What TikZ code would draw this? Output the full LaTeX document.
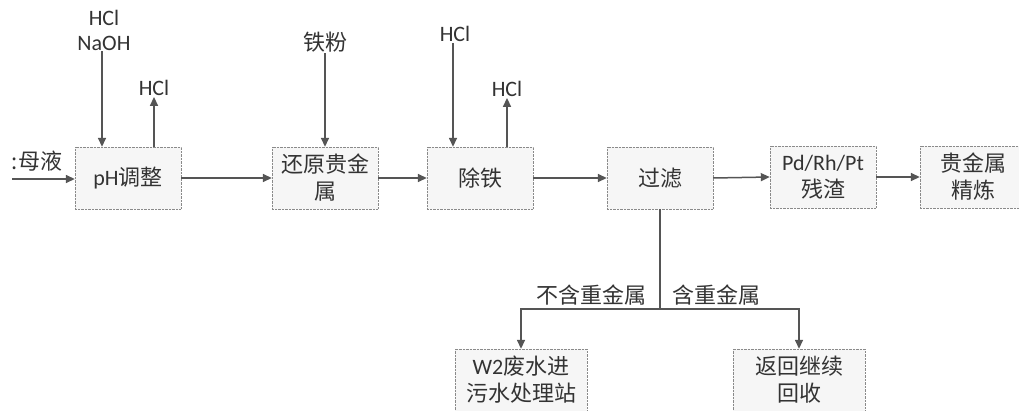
\documentclass[tikz,border=0pt]{standalone}
\usepackage{fontspec}
\setmainfont{Carlito}
\newfontfamily\cjk{Noto Sans CJK SC}
\usetikzlibrary{arrows.meta}
\definecolor{txt}{HTML}{333333}
\definecolor{ln}{HTML}{555555}
\definecolor{bd}{HTML}{8A8A8A}
\definecolor{bx}{HTML}{F6F6F6}
\tikzset{
  x=1pt, y=-1pt,
  procbox/.style={draw=bd, densely dotted, fill=bx, minimum width=106pt, minimum height=62pt,
    inner sep=0pt, align=center, text=txt, font=\fontsize{22}{27}\selectfont},
  lbl/.style={text=txt, inner sep=1pt, align=center, font=\fontsize{22}{25}\selectfont},
  arr/.style={draw=ln, line width=1.5pt, -{Triangle[length=9pt,width=8pt]}},
  seg/.style={draw=ln, line width=1.5pt}
}
\begin{document}
\begin{tikzpicture}
\useasboundingbox (0,0) rectangle (1019,410);
\clip (0,0) rectangle (1019,410);
\fill[white] (0,0) rectangle (1019,410);
% boxes
\node[procbox] (ph) at (128,178) {pH{\cjk 调整}};
\node[procbox] (red) at (325,178) {{\cjk 还原贵金}\\{\cjk 属}};
\node[procbox] (fe) at (480,178) {{\cjk 除铁}};
\node[procbox] (flt) at (660,178) {{\cjk 过滤}};
\node[procbox] (res) at (823,177) {Pd/Rh/Pt\\{\cjk 残渣}};
\node[procbox] (ref) at (973,177) {{\cjk 贵金属}\\{\cjk 精炼}};
\node[procbox, minimum width=132pt] (ww) at (521,380) {W2{\cjk 废水进}\\{\cjk 污水处理站}};
\node[procbox, minimum width=132pt] (ret) at (799,380) {{\cjk 返回继续}\\{\cjk 回收}};
% labels
\node[lbl] (ml) at (37,161) {{\cjk :母液}};
\coordinate (min) at (12,179);
\node[lbl] (hn) at (104,30) {HCl\\NaOH};
\node[lbl] (h1) at (154,88) {HCl};
\node[lbl] (tf) at (325,42) {{\cjk 铁粉}};
\node[lbl] (h2) at (455,34) {HCl};
\node[lbl] (h3) at (507,89) {HCl};
\node[lbl] (l1) at (591,295) {{\cjk 不含重金属}};
\node[lbl] (l2) at (716,295) {{\cjk 含重金属}};
% connectors
\draw[arr] (min) -- (min -| ph.west);
\draw[arr] ([xshift=-2pt]hn.south) -- ([xshift=-2pt]hn.south |- ph.north);
\draw[arr] (h1.south |- ph.north) -- (h1.south);
\draw[arr] (ph.east) -- (red.west);
\draw[arr] (tf.south) -- (tf.south |- red.north);
\draw[arr] (red.east) -- (fe.west);
\draw[arr] ([xshift=-2pt]h2.south) -- ([xshift=-2pt]h2.south |- fe.north);
\draw[arr] (h3.south |- fe.north) -- (h3.south);
\draw[arr] (fe.east) -- (flt.west);
\draw[arr] (flt.east) -- (res.west);
\draw[arr] (res.east) -- (ref.west);
\coordinate (br) at (660,309);
\draw[seg] (flt.south) -- (br);
\draw[arr] (br) -| (ww.north);
\draw[arr] (br) -| (ret.north);
\end{tikzpicture}
\end{document}
